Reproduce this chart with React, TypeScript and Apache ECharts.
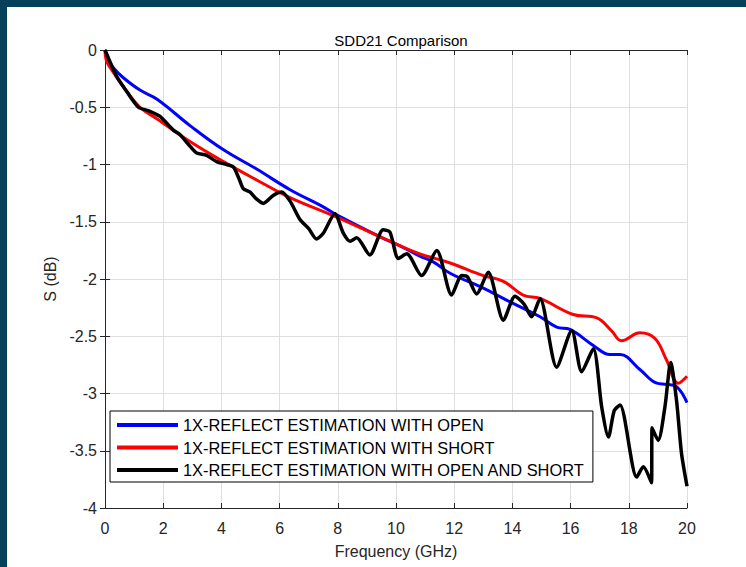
import React, { useEffect, useRef } from "react";
import * as echarts from "echarts";

// SDD21 insertion loss (dB) versus frequency (GHz), one [f, S] pair per point
const openData: [number, number][] = [
  [0, 0], [0.1, -0.08], [0.3, -0.16], [0.62, -0.24], [1.2, -0.35], [1.79, -0.43],
  [2.92, -0.66], [4.06, -0.87], [5.21, -1.04], [6.36, -1.22], [7.5, -1.37],
  [7.96, -1.44], [9.56, -1.645], [10.14, -1.71], [10.82, -1.8], [11.28, -1.85],
  [11.86, -1.95], [13.0, -2.08], [13.92, -2.2], [14.95, -2.33], [15.52, -2.42],
  [15.98, -2.44], [16.78, -2.58], [17.35, -2.66], [17.7, -2.66], [18.38, -2.79],
  [18.96, -2.91], [19.3, -2.92], [19.64, -2.94], [20.0, -3.08],
];

const shortData: [number, number][] = [
  [0, 0], [0.06, -0.1], [0.3, -0.2], [0.63, -0.32], [1.2, -0.5], [1.78, -0.6],
  [2.92, -0.8], [4.07, -0.975], [5.21, -1.135], [6.36, -1.29], [7.96, -1.46],
  [9.79, -1.67], [10.82, -1.78], [11.86, -1.86], [13.0, -1.97], [13.69, -2.02],
  [14.37, -2.14], [14.95, -2.17], [16.09, -2.31], [16.9, -2.34], [17.4, -2.45],
  [17.75, -2.54], [18.38, -2.47], [18.9, -2.52], [19.3, -2.71], [19.7, -2.91],
  [20.0, -2.85],
];

const openShortData: [number, number][] = [
  [0, 0], [0.2, -0.12], [0.4, -0.23], [0.74, -0.36], [1.15, -0.5], [1.49, -0.53],
  [1.89, -0.58], [2.35, -0.7], [2.58, -0.74], [2.92, -0.84], [3.15, -0.9],
  [3.49, -0.92], [3.84, -0.975], [4.18, -1.0], [4.41, -1.02], [4.6, -1.12],
  [4.75, -1.21], [4.98, -1.24], [5.2, -1.3], [5.44, -1.34], [5.78, -1.27],
  [6.07, -1.24], [6.36, -1.32], [6.7, -1.48], [7.0, -1.56], [7.27, -1.65],
  [7.5, -1.6], [7.9, -1.43], [8.19, -1.6], [8.42, -1.67], [8.65, -1.64],
  [9.1, -1.79], [9.56, -1.57], [9.79, -1.59], [10.08, -1.82], [10.37, -1.78],
  [10.88, -1.97], [11.4, -1.75], [11.91, -2.14], [12.26, -1.97], [12.45, -1.98],
  [12.77, -2.13], [13.17, -1.94], [13.69, -2.36], [14.09, -2.15], [14.4, -2.22],
  [14.66, -2.33], [14.95, -2.17], [15.52, -2.77], [16.04, -2.45], [16.38, -2.81],
  [16.78, -2.61], [17.07, -3.12], [17.3, -3.38], [17.5, -3.15], [17.7, -3.1],
  [18.27, -3.73], [18.5, -3.64], [18.78, -3.78], [18.8, -3.3], [19.01, -3.41],
  [19.24, -3.12], [19.44, -2.73], [19.64, -3.06], [19.81, -3.52], [20.0, -3.81],
];

const seriesNames = [
  "1X-REFLECT ESTIMATION WITH OPEN",
  "1X-REFLECT ESTIMATION WITH SHORT",
  "1X-REFLECT ESTIMATION WITH OPEN AND SHORT",
];
const seriesColors = ["#0000ff", "#ff0000", "#000000"];

const FONT = "Liberation Sans, Arial, Helvetica, sans-serif";
const AXIS_COLOR = "#262626";

export default function App() {
  const ref = useRef<HTMLDivElement>(null);

  useEffect(() => {
    if (!ref.current) return;
    const chart = echarts.init(ref.current, undefined, { renderer: "svg" });

    const frameAxis = {
      axisLine: { show: true, lineStyle: { color: AXIS_COLOR, width: 1 } },
      axisTick: { show: true, inside: true, length: 5, lineStyle: { color: AXIS_COLOR } },
      axisLabel: { show: false },
      splitLine: { show: false },
    };

    const datasets = [openData, shortData, openShortData];

    chart.setOption({
      animation: false,
      backgroundColor: "#ffffff",
      textStyle: { fontFamily: FONT },
      title: {
        text: "SDD21 Comparison",
        left: 396,
        textAlign: "center",
        top: 28,
        textStyle: { fontFamily: FONT, fontSize: 15, fontWeight: "normal", color: "#000" },
      },
      grid: { left: 105, top: 50, right: 59, bottom: 59, containLabel: false, outerBoundsMode: "none" },
      legend: {
        orient: "vertical",
        left: 110,
        top: 411,
        padding: [6, 8, 4, 7],
        itemGap: 6.5,
        itemWidth: 61,
        itemHeight: 4,
        icon: "rect",
        backgroundColor: "#ffffff",
        borderColor: "#000000",
        borderWidth: 1,
        borderRadius: 0,
        data: seriesNames,
        textStyle: { fontFamily: FONT, fontSize: 16.4, color: "#000", lineHeight: 16 },
      },
      xAxis: [
        {
          type: "value",
          min: 0,
          max: 20,
          interval: 2,
          name: "Frequency (GHz)",
          nameLocation: "middle",
          nameGap: 35,
          nameTextStyle: { fontFamily: FONT, fontSize: 16, color: AXIS_COLOR },
          axisLine: { show: true, onZero: false, lineStyle: { color: AXIS_COLOR, width: 1 } },
          axisTick: { show: true, inside: true, length: 5, lineStyle: { color: AXIS_COLOR } },
          axisLabel: { fontFamily: FONT, fontSize: 16, color: AXIS_COLOR, margin: 12 },
          splitLine: { show: true, lineStyle: { color: "#dfdfdf", width: 1 } },
        },
        { type: "value", position: "top", min: 0, max: 20, interval: 2, ...frameAxis },
      ],
      yAxis: [
        {
          type: "value",
          min: -4,
          max: 0,
          interval: 0.5,
          name: "S (dB)",
          nameLocation: "middle",
          nameGap: 40,
          nameTextStyle: { fontFamily: FONT, fontSize: 16, color: AXIS_COLOR },
          axisLine: { show: true, onZero: false, lineStyle: { color: AXIS_COLOR, width: 1 } },
          axisTick: { show: true, inside: true, length: 5, lineStyle: { color: AXIS_COLOR } },
          axisLabel: { fontFamily: FONT, fontSize: 16, color: AXIS_COLOR, margin: 8 },
          splitLine: { show: true, lineStyle: { color: "#dfdfdf", width: 1 } },
        },
        { type: "value", position: "right", min: -4, max: 0, interval: 0.5, ...frameAxis },
      ],
      series: seriesNames.map((name, i) => ({
        name,
        type: "line",
        xAxisIndex: 0,
        yAxisIndex: 0,
        data: datasets[i],
        symbol: "none",
        showSymbol: false,
        smooth: i === 2 ? 0.25 : 0.4,
        lineStyle: { color: seriesColors[i], width: i === 2 ? 3.5 : 3 },
        itemStyle: { color: seriesColors[i] },
        z: 2 + i,
      })),
      graphic: [
        { type: "rect", shape: { x: 0, y: 0, width: 746, height: 7 }, style: { fill: "#07405a" }, silent: true },
        { type: "rect", shape: { x: 0, y: 0, width: 7, height: 567 }, style: { fill: "#07405a" }, silent: true },
      ],
    });

    return () => chart.dispose();
  }, []);

  return (
    <div style={{ position: "fixed", left: 0, top: 0, width: 746, height: 567 }}>
      <div ref={ref} style={{ width: 746, height: 567 }} />
    </div>
  );
}
